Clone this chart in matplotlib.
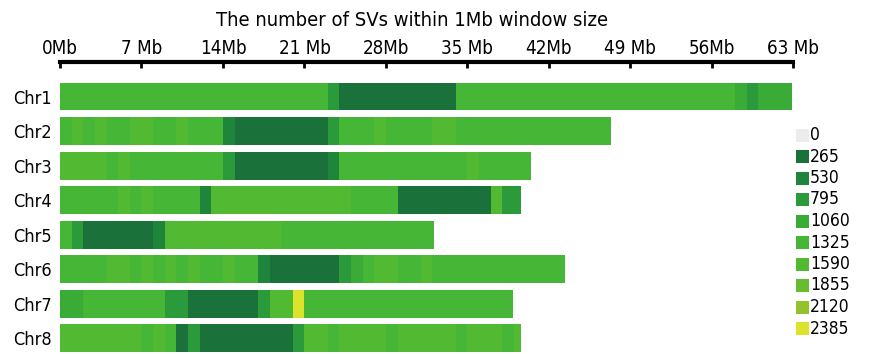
"""SV density along chromosomes, counted in 1 Mb windows."""

import numpy as np
import matplotlib
matplotlib.use("Agg")
import matplotlib.pyplot as plt
from matplotlib.colors import BoundaryNorm, ListedColormap

FONT = dict(family=["DejaVu Sans"], stretch="condensed")

chromosomes = ["Chr1", "Chr2", "Chr3", "Chr4", "Chr5", "Chr6", "Chr7", "Chr8"]
chr_length_mb = [62.9, 47.3, 40.5, 39.6, 32.1, 43.4, 38.9, 39.6]

# SV counts per 1 Mb window
chr1 = [1450, 1400, 1500, 1420, 1380, 1450, 1500, 1400, 1350, 1420, 1480, 1400, 1450, 1380, 1420, 1500,
        1450, 1400, 1380, 1420, 1450, 1400, 1380, 900, 380, 300, 280, 300, 320, 280, 300, 350, 400, 450,
        1380, 1420, 1450, 1400, 1480, 1420, 1380, 1450, 1400, 1420, 1450, 1380, 1400, 1480, 1420, 1450,
        1400, 1380, 1420, 1450, 1400, 1380, 1420, 1450, 1100, 1050, 1150, 1100, 1300]
chr2 = [1500, 1600, 1450, 1650, 1500, 1400, 1600, 1700, 1450, 1500, 1650, 1500, 1400, 1450, 700,
        300, 280, 300, 290, 300, 320, 300, 450, 800, 1450, 1500, 1550, 1600, 1500, 1450, 1400, 1500,
        1800, 1700, 1450, 1400, 1500, 1450, 1400, 1350, 1450, 1400, 1500, 1450, 1400, 1350, 1400, 1450]
chr3 = [1700, 1600, 1650, 1600, 1550, 1600, 1450, 1500, 1400, 1500, 1450, 1550, 1500, 1450, 900,
        300, 280, 300, 290, 300, 320, 300, 350, 750, 1450, 1500, 1400, 1550, 1500, 1450, 1400, 1500,
        1450, 1400, 1500, 1850, 1500, 1450, 1400, 1450, 1400]
chr4 = [1400, 1350, 1450, 1500, 1400, 1600, 1550, 1650, 1500, 1450, 1400, 1350, 750, 1700, 1750,
        1650, 1800, 1700, 1650, 1750, 1700, 1650, 1700, 1750, 1650, 1500, 1450, 1500, 1400, 500, 450,
        400, 350, 300, 300, 350, 450, 1650, 900, 850]
chr5 = [1400, 800, 320, 300, 280, 300, 290, 350, 700, 1600, 1650, 1700, 1600, 1750, 1650, 1700, 1800,
        1650, 1700, 1450, 1500, 1400, 1450, 1500, 1400, 1450, 1400, 1500, 1450, 1400, 1450, 1400, 1450]
chr6 = [1450, 1500, 1400, 1550, 1650, 1600, 1500, 1650, 1450, 1600, 1500, 1650, 1550, 1400, 1600,
        1500, 1450, 700, 300, 280, 300, 290, 310, 300, 850, 1100, 1500, 1600, 1650, 1550, 1500, 1600,
        1450, 1500, 1550, 1400, 1450, 1500, 1400, 1450, 1500, 1450, 1400, 1450]
chr7 = [1100, 1150, 1400, 1450, 1350, 1400, 1500, 1450, 1400, 800, 850, 300, 280, 320, 300, 290, 350,
        850, 1600, 1650, 2450, 1450, 1400, 1500, 1450, 1400, 1350, 1450, 1500, 1400, 1450, 1400, 1350,
        1450, 1400, 1450, 1500, 1400, 1450]
chr8 = [1650, 1700, 1600, 1650, 1700, 1600, 1650, 1550, 1600, 1500, 300, 800, 300, 280, 320, 300, 290,
        300, 310, 500, 850, 1600, 1650, 1550, 1600, 1700, 1650, 1600, 1550, 1650, 1600, 1700, 1650,
        1600, 1550, 1600, 1650, 1600, 1550, 1600]
window_counts = [chr1, chr2, chr3, chr4, chr5, chr6, chr7, chr8]

levels = [0, 265, 530, 795, 1060, 1325, 1590, 1855, 2120, 2385]
level_colors = ["#ececec", "#1a7139", "#1f853a", "#2a9a3a", "#3aab37", "#46b636",
                "#52b933", "#68bc2f", "#92c32c", "#dde22a"]
ticks_mb = [0, 7, 14, 21, 28, 35, 42, 49, 56, 63]
tick_labels = ["0Mb", "7 Mb", "14Mb", "21 Mb", "28Mb", "35 Mb", "42Mb", "49 Mb", "56Mb", "63 Mb"]

cmap = ListedColormap(level_colors)
norm = BoundaryNorm(levels + [levels[-1] + 265], cmap.N)

W, H = 872, 354
fig = plt.figure(figsize=(W / 100, H / 100), dpi=100)

px_per_mb = 11.64
ax = fig.add_axes([60 / W, 0, 63 * px_per_mb / W, (H - 62) / H])

for row, (length, counts) in enumerate(zip(chr_length_mb, window_counts)):
    starts = np.arange(len(counts))
    widths = np.minimum(1.0, length - starts)
    ax.barh(row, widths, left=starts, height=0.81, color=cmap(norm(counts)),
            linewidth=0, clip_on=False)

ax.set_xlim(0, 63)
ax.set_ylim(7.46, -1.0)
ax.set_yticks(range(len(chromosomes)))
ax.set_yticklabels(chromosomes, fontsize=13, **FONT)
ax.tick_params(axis="y", length=0, pad=6)

ax.xaxis.tick_top()
ax.set_xticks(ticks_mb)
ax.set_xticklabels(tick_labels, fontsize=13.5, **FONT)
ax.tick_params(axis="x", direction="in", length=4, width=2, pad=3)
for side in ["left", "right", "bottom"]:
    ax.spines[side].set_visible(False)
ax.spines["top"].set_linewidth(3)

fig.text(412 / W, 1 - 20 / H, "The number of SVs within 1Mb window size",
         ha="center", va="center", fontsize=14.5, **FONT)

# colour key
lax = fig.add_axes([790 / W, 0, 80 / W, 1])
lax.set_xlim(790, 870)
lax.set_ylim(H, 0)
lax.axis("off")
key_y = 135 + 21.5 * np.arange(len(levels))
lax.barh(key_y, 13, left=796, height=13, color=level_colors, linewidth=0)
for y, lab in zip(key_y, levels):
    lax.text(810, y, str(lab), va="center", ha="left", fontsize=12.5, **FONT)

fig.savefig("out.png", dpi=100)
